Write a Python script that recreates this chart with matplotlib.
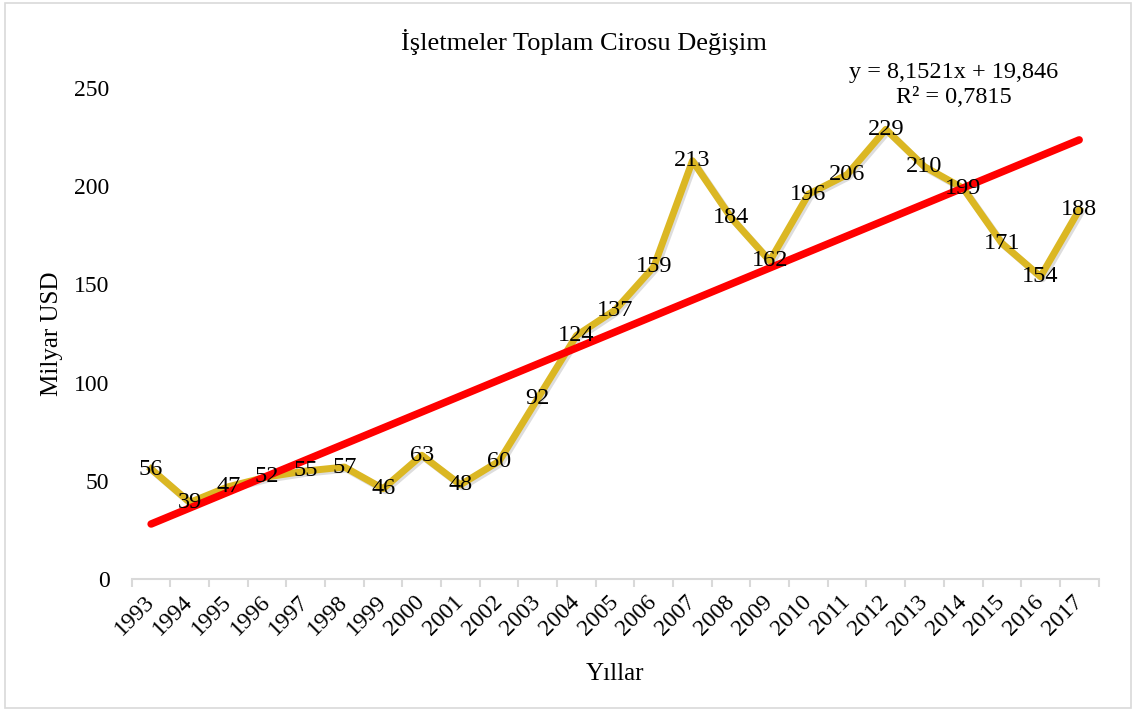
import numpy as np
import matplotlib.pyplot as plt
import matplotlib.patheffects as pe
from matplotlib.patches import Rectangle

plt.rcParams['font.family'] = ['Liberation Serif', 'DejaVu Serif']

years = [str(y) for y in range(1993, 2018)]
ciro = [56, 39, 47, 52, 55, 57, 46, 63, 48, 60, 92, 124, 137, 159, 213,
        184, 162, 196, 206, 229, 210, 199, 171, 154, 188]
slope = 8.1521
intercept = 19.846

x = np.arange(1, len(years) + 1)

fig = plt.figure(figsize=(11.36, 7.11), dpi=100)
ax = fig.add_axes([0.116, 0.1857, 0.851, 0.6903])

ax.plot(x, ciro, color='#DBB723', lw=5, solid_joinstyle='round', zorder=2,
        path_effects=[pe.SimpleLineShadow(offset=(1.5, -1.5), alpha=0.18, shadow_color='#444444'),
                      pe.Normal()])
trend = slope * x + intercept
ax.plot(x, trend, color='#FF0000', lw=5.4, solid_capstyle='round', zorder=3)

for xi, v in zip(x, ciro):
    ax.text(xi, v, str(v), ha='center', va='center', fontsize=17.5, zorder=4)

ax.text(21.75, 251.5, 'y = 8,1521x + 19,846\nR² = 0,7815', ha='center', va='center',
        fontsize=17.5, linespacing=1.25)

ax.set_xlim(0.5, len(years) + 0.5)
ax.set_ylim(0, 250)
ax.set_yticks(np.arange(0, 251, 50))
ax.set_xticks(x)
ax.set_xticklabels(years, rotation=45, ha='right', va='center', rotation_mode='anchor',
                   fontsize=17)
ax.set_xticks(np.arange(0.5, len(years) + 1, 1), minor=True)
ax.tick_params(axis='x', which='major', length=0, pad=14)
ax.tick_params(axis='x', which='minor', length=6, color='#D9D9D9', width=1.5)
ax.tick_params(axis='y', length=0, labelsize=17, pad=16)

for s in ['top', 'right', 'left']:
    ax.spines[s].set_visible(False)
ax.spines['bottom'].set_color('#D9D9D9')
ax.spines['bottom'].set_linewidth(1.5)

fig.text(0.514, 1 - 42 / 711, 'İşletmeler Toplam Cirosu Değişim', ha='center', va='center',
         fontsize=19)
ax.set_xlabel('Yıllar', fontsize=18, labelpad=17)
ax.set_ylabel('Milyar USD', fontsize=18, labelpad=8)

fig.patches.append(Rectangle((0.004, 0.004), 0.992, 0.992, transform=fig.transFigure,
                             fill=False, edgecolor='#D9D9D9', lw=1.2))

fig.savefig('out.png', dpi=100)
